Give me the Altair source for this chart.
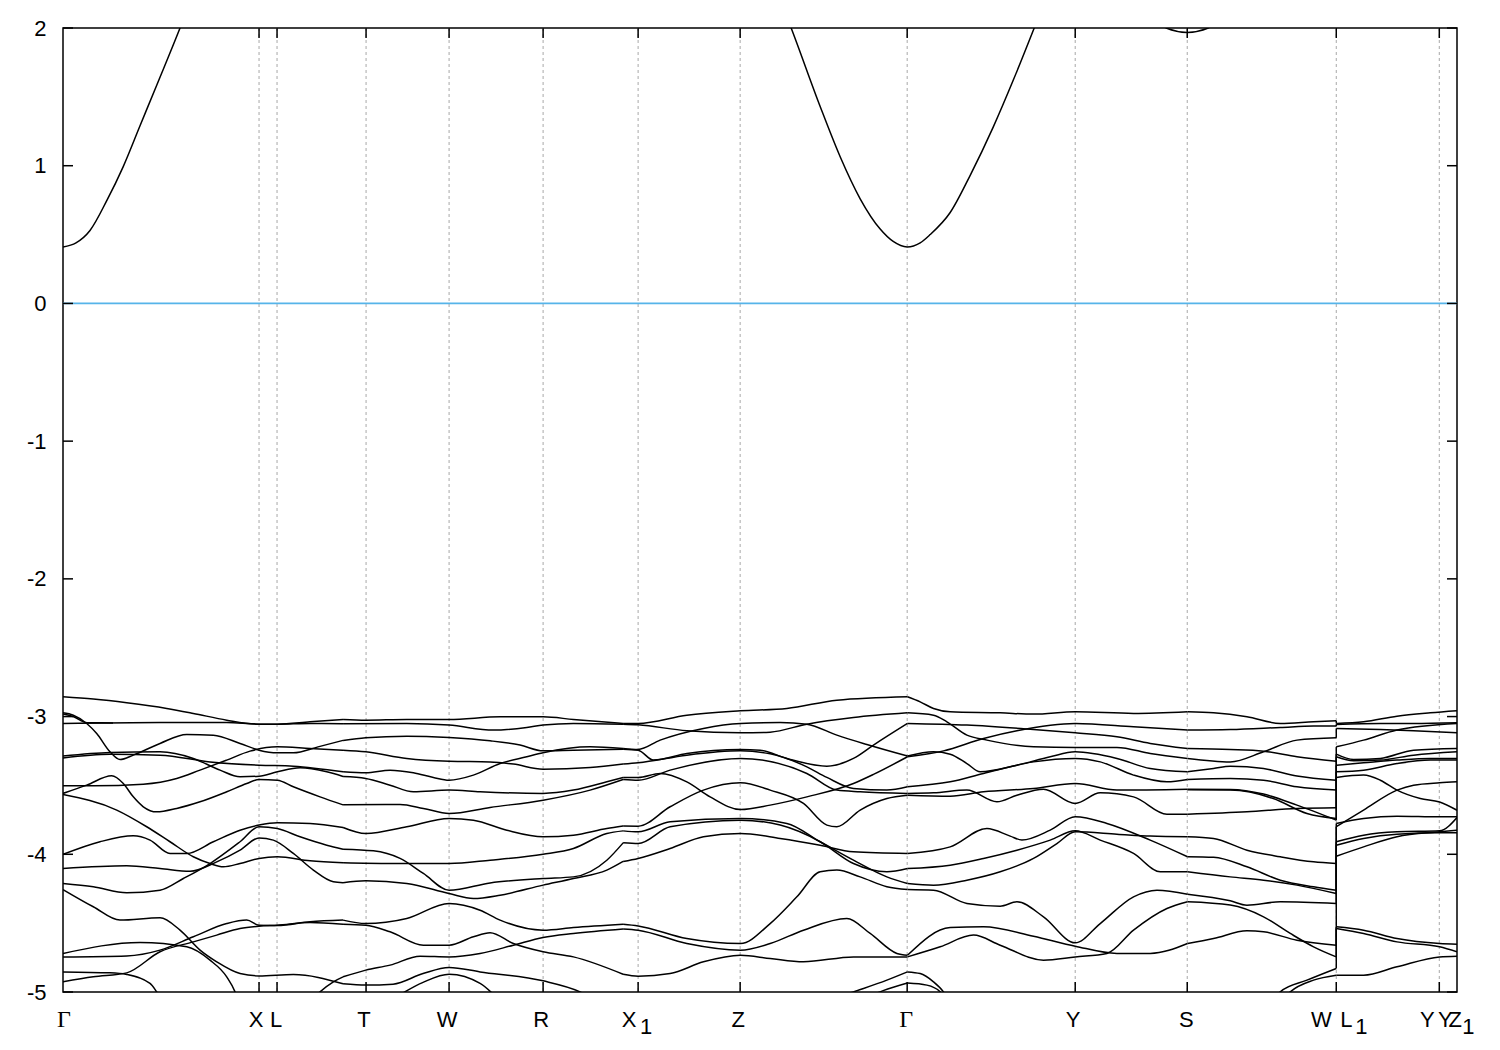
import altair as alt
import pandas as pd

# ---------------- k-path (arbitrary path units) ----------------
K_END = 13.937
HS_TICKS = [1.96, 2.14, 3.03, 3.86, 4.80, 5.75, 6.77, 8.44, 10.12, 11.24, 12.73, 13.76]
Y_TICKS = [-5, -4, -3, -2, -1, 0, 1, 2]

# tick labels: (k position, text)
LABELS_SANS = [(1.93, "X"), (2.13, "L"), (3.01, "T"), (3.84, "W"), (4.78, "R"),
               (5.66, "X"), (6.75, "Z"), (10.10, "Y"), (11.23, "S"), (12.58, "W"),
               (12.83, "L"), (13.64, "Y"), (13.82, "Y"), (13.92, "Z")]
LABELS_SERIF = [(0.01, "Γ"), (8.43, "Γ")]
LABELS_SUB = [(5.83, "1"), (12.98, "1"), (14.05, "1")]

# ---------------- conduction band (k, E) ----------------
CB_GAMMA1 = [(0.0, 0.41), (0.13, 0.44), (0.27, 0.53), (0.44, 0.75), (0.60, 0.99),
             (0.77, 1.29), (0.94, 1.59), (1.17, 2.0), (1.25, 2.15)]
CB_GAMMA2 = [(7.20, 2.15), (7.28, 2.0), (7.57, 1.43), (7.77, 1.065), (7.97, 0.76),
             (8.17, 0.54), (8.30, 0.45), (8.44, 0.41), (8.57, 0.44), (8.67, 0.50),
             (8.87, 0.66), (9.07, 0.93), (9.30, 1.28), (9.50, 1.62), (9.71, 2.0), (9.78, 2.13)]
CB_S = [(10.95, 2.03), (11.03, 2.0), (11.24, 1.968), (11.45, 2.0), (11.53, 2.03)]

# ---------------- valence bands, Gamma -> (between L and T) ----------------
VB_R1 = [
    [(0, -2.856), (0.303, -2.873), (0.637, -2.9), (1.037, -2.941), (1.303, -2.977), (1.637, -3.026), (1.96, -3.055), (2.143, -3.055), (2.47, -3.038), (2.80, -3.021)],
    [(0, -3.05), (0.97, -3.043), (1.637, -3.043), (1.96, -3.055), (2.143, -3.055), (2.47, -3.05), (2.80, -3.052)],
    [(0, -2.982), (0.10, -3.0), (0.24, -3.045), (0.50, -3.046)],
    [(0, -2.973), (0.103, -2.99), (0.237, -3.05), (0.337, -3.123), (0.47, -3.256), (0.57, -3.312), (0.703, -3.28), (0.97, -3.195), (1.237, -3.13), (1.503, -3.135), (1.77, -3.195), (1.96, -3.244), (2.143, -3.263), (2.303, -3.263), (2.55, -3.22), (2.80, -3.173)],
    [(0, -3.503), (0.303, -3.503), (0.803, -3.491), (1.137, -3.45), (1.37, -3.389), (1.637, -3.316), (1.87, -3.251), (2.143, -3.22), (2.47, -3.232), (2.80, -3.244)],
    [(0, -3.30), (0.47, -3.273), (0.97, -3.28), (1.47, -3.329), (1.96, -3.353), (2.303, -3.36), (2.80, -3.401)],
    [(0, -3.287), (0.47, -3.261), (0.97, -3.256), (1.303, -3.304), (1.57, -3.389), (1.77, -3.437), (1.96, -3.433), (2.143, -3.401), (2.37, -3.372), (2.637, -3.401), (2.80, -3.435)],
    [(0, -3.558), (0.237, -3.498), (0.487, -3.43), (0.603, -3.486), (0.703, -3.583), (0.803, -3.655), (0.937, -3.692), (1.137, -3.667), (1.37, -3.619), (1.637, -3.546), (1.837, -3.486), (1.96, -3.457), (2.143, -3.462), (2.303, -3.51), (2.57, -3.583), (2.80, -3.641)],
    [(0, -3.566), (0.537, -3.679), (0.837, -3.80), (1.07, -3.909), (1.303, -4.018), (1.47, -4.067), (1.603, -4.091), (1.77, -4.067), (1.96, -4.03), (2.143, -4.018), (2.47, -4.047), (2.80, -4.062)],
    [(0, -4.001), (0.37, -3.909), (0.703, -3.866), (0.87, -3.897), (1.07, -3.994), (1.237, -3.994), (1.503, -3.909), (1.77, -3.825), (1.96, -3.788), (2.143, -3.771), (2.47, -3.776), (2.80, -3.805)],
    [(0, -4.212), (0.303, -4.236), (0.637, -4.28), (0.97, -4.261), (1.203, -4.176), (1.47, -4.067), (1.77, -3.909), (1.96, -3.80), (2.143, -3.813), (2.37, -3.873), (2.637, -3.934), (2.80, -3.963)],
    [(0, -4.103), (0.637, -4.084), (0.97, -4.103), (1.27, -4.123), (1.537, -4.055), (1.77, -3.97), (1.96, -3.881), (2.103, -3.897), (2.303, -3.994), (2.503, -4.115), (2.703, -4.20), (2.80, -4.207)],
    [(0, -4.256), (0.303, -4.381), (0.57, -4.478), (0.97, -4.461), (1.17, -4.551), (1.37, -4.696), (1.537, -4.781), (1.77, -4.866), (1.96, -4.883), (2.303, -4.873), (2.80, -4.94)],
    [(0, -4.72), (0.77, -4.64), (1.237, -4.672), (1.47, -4.769), (1.637, -4.89), (1.72, -4.999), (1.75, -5.06)],
    [(0, -4.745), (0.637, -4.738), (0.97, -4.696), (1.303, -4.599), (1.637, -4.503), (1.837, -4.478), (1.96, -4.515), (2.143, -4.517), (2.47, -4.49), (2.80, -4.478)],
    [(0, -4.926), (0.303, -4.89), (0.637, -4.861), (0.97, -4.708), (1.303, -4.636), (1.537, -4.587), (1.77, -4.539), (1.96, -4.522), (2.143, -4.515), (2.47, -4.495), (2.80, -4.508)],
    [(0, -4.854), (0.47, -4.861), (0.637, -4.873), (0.87, -4.938), (0.937, -4.999), (0.97, -5.035)],
    [(2.50, -5.05), (2.57, -4.999), (2.703, -4.926), (2.80, -4.89)],
]

# ---------------- (between L and T) -> (between R and X1) ----------------
VB_R2 = [
    [(2.80, -3.021), (3.027, -3.026), (3.437, -3.021), (3.86, -3.021), (4.37, -3.002), (4.80, -3.002), (5.103, -3.021), (5.60, -3.05)],
    [(2.80, -3.052), (3.437, -3.05), (3.86, -3.062), (4.303, -3.098), (4.637, -3.079), (4.80, -3.062), (5.103, -3.05), (5.60, -3.055)],
    [(2.80, -3.173), (3.027, -3.154), (3.437, -3.142), (3.86, -3.152), (4.27, -3.176), (4.57, -3.207), (4.80, -3.249), (5.103, -3.244), (5.60, -3.237)],
    [(2.80, -3.244), (3.027, -3.256), (3.437, -3.304), (3.86, -3.324), (4.27, -3.329), (4.503, -3.345), (4.80, -3.382), (5.27, -3.37), (5.60, -3.345)],
    [(2.80, -3.401), (3.027, -3.408), (3.27, -3.389), (3.503, -3.408), (3.703, -3.442), (3.86, -3.462), (4.103, -3.425), (4.37, -3.341), (4.637, -3.292), (4.80, -3.263), (5.27, -3.22), (5.60, -3.232)],
    [(2.80, -3.435), (3.027, -3.449), (3.27, -3.498), (3.503, -3.546), (3.86, -3.534), (4.17, -3.546), (4.80, -3.558), (5.103, -3.534), (5.437, -3.474), (5.60, -3.442)],
    [(2.80, -3.641), (3.37, -3.638), (3.603, -3.667), (3.86, -3.704), (4.27, -3.66), (4.80, -3.607), (5.27, -3.534), (5.60, -3.457)],
    [(2.80, -3.805), (3.027, -3.849), (3.437, -3.80), (3.86, -3.74), (4.103, -3.752), (4.437, -3.825), (4.80, -3.873), (5.103, -3.861), (5.437, -3.813), (5.60, -3.795)],
    [(2.80, -3.963), (3.103, -3.975), (3.37, -4.03), (3.603, -4.139), (3.86, -4.261), (4.27, -4.208), (4.80, -4.176), (5.103, -4.164), (5.437, -4.043), (5.60, -3.917)],
    [(2.80, -4.062), (3.27, -4.067), (3.86, -4.067), (4.27, -4.043), (4.80, -4.0), (5.103, -3.958), (5.437, -3.849), (5.60, -3.83)],
    [(2.80, -4.207), (3.027, -4.193), (3.437, -4.212), (3.86, -4.285), (4.103, -4.321), (4.37, -4.297), (4.80, -4.224), (5.103, -4.176), (5.437, -4.115), (5.60, -4.052)],
    [(2.80, -4.478), (3.027, -4.503), (3.437, -4.466), (3.86, -4.357), (4.17, -4.406), (4.37, -4.478), (4.80, -4.551), (5.103, -4.532), (5.60, -4.508)],
    [(2.80, -4.508), (3.027, -4.515), (3.27, -4.563), (3.603, -4.66), (3.86, -4.66), (4.103, -4.599), (4.27, -4.57), (4.503, -4.648), (4.80, -4.708), (5.103, -4.745), (5.60, -4.871)],
    [(2.80, -4.89), (3.027, -4.841), (3.27, -4.805), (3.57, -4.74), (3.86, -4.745), (4.17, -4.72), (4.503, -4.66), (4.80, -4.604), (5.103, -4.575), (5.60, -4.542)],
    [(2.80, -4.94), (3.027, -4.95), (3.30, -4.943), (3.60, -4.866), (3.86, -4.822), (4.17, -4.854), (4.80, -4.919), (5.17, -4.999), (5.30, -5.048)],
    [(3.30, -5.05), (3.60, -4.93), (3.86, -4.871), (4.17, -4.938), (4.35, -5.05)],
]

# ---------------- (between R and X1) -> Gamma ----------------
VB_R3 = [
    [(5.60, -3.05), (5.75, -3.05), (6.237, -2.99), (6.773, -2.958), (7.237, -2.941), (7.737, -2.881), (8.443, -2.856)],
    [(5.60, -3.055), (5.75, -3.06), (6.237, -3.103), (6.773, -3.118), (7.07, -3.113), (7.437, -3.055), (7.903, -3.007), (8.443, -2.973)],
    [(5.60, -3.232), (5.75, -3.239), (5.97, -3.171), (6.403, -3.086), (6.773, -3.05), (7.17, -3.043), (7.437, -3.055), (7.737, -3.135), (8.037, -3.203), (8.443, -3.287)],
    [(5.60, -3.237), (5.75, -3.244), (5.903, -3.316), (6.237, -3.268), (6.773, -3.239), (6.97, -3.244), (7.237, -3.304), (7.637, -3.36), (7.903, -3.304), (8.103, -3.207), (8.443, -3.05)],
    [(5.60, -3.345), (5.75, -3.336), (6.237, -3.28), (6.773, -3.249), (7.07, -3.27), (7.437, -3.365), (7.637, -3.442), (7.903, -3.522), (8.237, -3.534), (8.443, -3.51)],
    [(5.60, -3.442), (5.75, -3.442), (5.97, -3.413), (6.237, -3.474), (6.47, -3.583), (6.773, -3.675), (7.07, -3.643), (7.437, -3.583), (7.903, -3.486), (8.103, -3.42), (8.443, -3.292)],
    [(5.60, -3.457), (5.75, -3.462), (6.07, -3.389), (6.773, -3.304), (7.437, -3.413), (7.737, -3.534), (7.97, -3.546), (8.443, -3.558)],
    [(5.60, -3.795), (5.75, -3.796), (6.07, -3.655), (6.403, -3.534), (6.773, -3.481), (7.07, -3.534), (7.403, -3.631), (7.637, -3.788), (7.737, -3.80), (7.97, -3.679), (8.237, -3.595), (8.443, -3.571)],
    [(5.60, -3.83), (5.75, -3.837), (6.07, -3.764), (6.773, -3.74), (7.237, -3.776), (7.57, -3.909), (7.903, -4.043), (8.237, -4.164), (8.443, -4.212)],
    [(5.60, -3.917), (5.75, -3.922), (6.07, -3.80), (6.773, -3.752), (7.17, -3.788), (7.57, -3.909), (7.903, -4.067), (8.237, -4.127), (8.443, -4.103)],
    [(5.60, -4.052), (5.75, -4.03), (6.07, -3.958), (6.403, -3.873), (6.773, -3.849), (7.17, -3.885), (7.57, -3.934), (7.903, -3.982), (8.443, -3.994)],
    [(5.60, -4.508), (5.75, -4.52), (6.237, -4.612), (6.773, -4.648), (7.07, -4.503), (7.337, -4.309), (7.57, -4.127), (7.737, -4.115), (7.97, -4.164), (8.237, -4.236), (8.443, -4.256)],
    [(5.60, -4.542), (5.75, -4.551), (6.237, -4.648), (6.773, -4.696), (7.07, -4.648), (7.403, -4.551), (7.837, -4.466), (8.07, -4.575), (8.337, -4.72), (8.443, -4.733)],
    [(5.60, -4.871), (5.75, -4.885), (6.07, -4.866), (6.403, -4.781), (6.773, -4.733), (7.07, -4.757), (7.403, -4.781), (7.903, -4.745), (8.443, -4.745)],
    [(7.70, -5.05), (7.903, -4.999), (8.237, -4.914), (8.443, -4.854)],
    [(8.00, -5.05), (8.20, -4.99), (8.443, -4.935)],
]

# ---------------- Gamma -> S ----------------
VB_R4 = [
    [(8.443, -2.856), (8.57, -2.893), (8.703, -2.941), (8.87, -2.965), (9.37, -2.973), (9.703, -2.982), (10.12, -2.965), (10.703, -2.977), (11.243, -2.965)],
    [(8.443, -2.973), (8.703, -2.99), (8.837, -3.038), (9.037, -3.135), (9.237, -3.171), (9.703, -3.22), (10.12, -3.224), (10.537, -3.224), (10.87, -3.268), (11.243, -3.304)],
    [(8.443, -3.05), (9.037, -3.062), (9.703, -3.094), (10.12, -3.118), (10.537, -3.147), (10.87, -3.195), (11.243, -3.232)],
    [(8.443, -3.287), (8.703, -3.256), (8.87, -3.273), (9.037, -3.341), (9.17, -3.401), (9.537, -3.353), (9.87, -3.292), (10.12, -3.256), (10.537, -3.304), (10.87, -3.377), (11.243, -3.401)],
    [(8.443, -3.292), (8.803, -3.249), (9.203, -3.159), (9.537, -3.103), (10.12, -3.05), (10.703, -3.074), (11.243, -3.098)],
    [(8.443, -3.51), (8.87, -3.474), (9.203, -3.413), (9.703, -3.329), (10.12, -3.304), (10.37, -3.329), (10.703, -3.425), (11.037, -3.474), (11.243, -3.457)],
    [(8.443, -3.558), (8.703, -3.554), (9.037, -3.534), (9.337, -3.619), (9.537, -3.571), (9.803, -3.527), (10.12, -3.631), (10.37, -3.554), (10.703, -3.583), (11.037, -3.709), (11.243, -3.709)],
    [(8.443, -3.571), (8.87, -3.578), (9.203, -3.546), (9.703, -3.522), (10.12, -3.486), (10.537, -3.534), (11.243, -3.527)],
    [(8.443, -3.994), (8.87, -3.946), (9.237, -3.813), (9.47, -3.868), (9.587, -3.897), (9.87, -3.825), (10.12, -3.728), (10.437, -3.776), (10.87, -3.897), (11.243, -4.018)],
    [(8.443, -4.103), (8.87, -4.079), (9.203, -4.03), (9.537, -3.97), (9.87, -3.897), (10.12, -3.83), (10.37, -3.897), (10.703, -3.994), (10.97, -4.127), (11.243, -4.127)],
    [(8.443, -4.212), (8.703, -4.224), (9.037, -4.188), (9.37, -4.127), (9.703, -4.03), (9.937, -3.922), (10.12, -3.837), (10.537, -3.854), (10.87, -3.868), (11.243, -3.873)],
    [(8.443, -4.256), (8.703, -4.261), (9.037, -4.357), (9.37, -4.377), (9.537, -4.345), (9.803, -4.454), (10.12, -4.643), (10.37, -4.503), (10.703, -4.309), (10.937, -4.261), (11.243, -4.29)],
    [(8.443, -4.733), (8.87, -4.532), (9.203, -4.527), (9.703, -4.595), (10.12, -4.667), (10.537, -4.72), (10.87, -4.72), (11.243, -4.648)],
    [(8.443, -4.745), (8.77, -4.672), (9.103, -4.587), (9.37, -4.66), (9.803, -4.769), (10.12, -4.745), (10.437, -4.72), (10.703, -4.551), (11.037, -4.394), (11.243, -4.345)],
    [(8.443, -4.854), (8.57, -4.866), (8.703, -4.926), (8.803, -4.999), (8.85, -5.05)],
    [(8.443, -4.935), (8.637, -4.95), (8.77, -4.999), (8.82, -5.05)],
]

# ---------------- S -> W ----------------
VB_R5 = [
    [(11.243, -2.965), (11.503, -2.973), (11.837, -3.002), (12.17, -3.05), (12.503, -3.038), (12.73, -3.031)],
    [(11.243, -3.098), (11.67, -3.094), (12.17, -3.079), (12.503, -3.069), (12.73, -3.069)],
    [(11.243, -3.232), (11.67, -3.239), (12.003, -3.251), (12.337, -3.292), (12.73, -3.324)],
    [(11.243, -3.304), (11.67, -3.329), (12.003, -3.256), (12.337, -3.171), (12.73, -3.154)],
    [(11.243, -3.401), (11.503, -3.377), (11.67, -3.36), (12.003, -3.377), (12.337, -3.432), (12.73, -3.462)],
    [(11.243, -3.457), (11.67, -3.449), (12.003, -3.462), (12.337, -3.51), (12.73, -3.534)],
    [(11.243, -3.527), (11.67, -3.529), (12.003, -3.563), (12.337, -3.643), (12.73, -3.752)],
    [(11.243, -3.532), (11.67, -3.534), (12.10, -3.595), (12.437, -3.704), (12.73, -3.74)],
    [(11.243, -3.709), (11.837, -3.692), (12.337, -3.667), (12.73, -3.662)],
    [(11.243, -3.873), (11.503, -3.885), (11.837, -3.97), (12.17, -4.018), (12.503, -4.055), (12.73, -4.067)],
    [(11.243, -4.018), (11.503, -4.022), (11.837, -4.091), (12.17, -4.188), (12.503, -4.236), (12.73, -4.261)],
    [(11.243, -4.127), (11.67, -4.164), (12.003, -4.188), (12.337, -4.224), (12.73, -4.285)],
    [(11.243, -4.29), (11.67, -4.338), (11.837, -4.37), (12.17, -4.345), (12.73, -4.357)],
    [(11.243, -4.345), (11.67, -4.369), (12.003, -4.454), (12.27, -4.575), (12.503, -4.672), (12.73, -4.745)],
    [(11.243, -4.648), (11.503, -4.612), (11.837, -4.556), (12.003, -4.563), (12.337, -4.624), (12.73, -4.66)],
    [(12.10, -5.05), (12.17, -4.999), (12.437, -4.914), (12.73, -4.829)],
    [(12.20, -5.05), (12.27, -4.999), (12.503, -4.914), (12.73, -4.878)],
]

# ---------------- L1 -> Y -> Z1 ----------------
VB_R6 = [
    [(12.73, -3.05), (13.003, -3.038), (13.337, -2.997), (13.67, -2.973), (13.937, -2.958)],
    [(12.73, -3.057), (13.17, -3.05), (13.503, -3.05), (13.937, -3.045)],
    [(12.73, -3.086), (13.17, -3.094), (13.503, -3.103), (13.937, -3.118)],
    [(12.73, -3.22), (13.003, -3.171), (13.337, -3.098), (13.937, -3.05)],
    [(12.73, -3.273), (12.903, -3.312), (13.17, -3.304), (13.503, -3.244), (13.937, -3.232)],
    [(12.73, -3.292), (12.903, -3.321), (13.17, -3.316), (13.503, -3.28), (13.937, -3.256)],
    [(12.73, -3.353), (13.003, -3.336), (13.337, -3.316), (13.67, -3.304), (13.937, -3.304)],
    [(12.73, -3.401), (13.003, -3.389), (13.337, -3.341), (13.67, -3.316), (13.937, -3.316)],
    [(12.73, -3.442), (13.003, -3.425), (13.17, -3.462), (13.337, -3.534), (13.57, -3.595), (13.763, -3.62), (13.937, -3.68)],
    [(12.73, -3.80), (13.003, -3.679), (13.337, -3.534), (13.503, -3.498), (13.763, -3.481), (13.937, -3.474)],
    [(12.73, -3.776), (13.003, -3.74), (13.337, -3.723), (13.763, -3.728), (13.937, -3.728)],
    [(12.73, -3.909), (13.003, -3.861), (13.337, -3.837), (13.763, -3.83), (13.937, -3.733)],
    [(12.73, -3.934), (13.003, -3.885), (13.337, -3.854), (13.763, -3.844), (13.937, -3.844)],
    [(12.73, -4.014), (13.003, -3.946), (13.337, -3.873), (13.763, -3.837), (13.937, -3.825)],
    [(12.73, -4.527), (13.003, -4.551), (13.337, -4.612), (13.763, -4.648), (13.937, -4.653)],
    [(12.73, -4.539), (13.003, -4.575), (13.337, -4.636), (13.763, -4.672), (13.937, -4.708)],
    [(12.73, -4.878), (13.003, -4.878), (13.337, -4.817), (13.763, -4.745), (13.937, -4.74)],
]

# ---------------- build tables ----------------
rows = []
pieces = [("cb", [CB_GAMMA1, CB_GAMMA2, CB_S]), ("r1", VB_R1), ("r2", VB_R2),
          ("r3", VB_R3), ("r4", VB_R4), ("r5", VB_R5), ("r6", VB_R6)]
for name, group in pieces:
    for i, piece in enumerate(group):
        for j, (k, e) in enumerate(piece):
            rows.append({"piece": f"{name}_{i}", "k": k, "E": e, "o": j})
bands = pd.DataFrame(rows)

# band jumps at the W | L1 discontinuity
w_end = sorted(p[-1][1] for p in VB_R5)
l1_start = sorted(p[0][1] for p in VB_R6)
jumps = pd.DataFrame({"k": [12.73] * len(w_end), "E": w_end, "E2": l1_start})

grid_df = pd.DataFrame({"k": HS_TICKS})
ytick_df = pd.DataFrame({"E": Y_TICKS})
sans_df = pd.DataFrame(LABELS_SANS, columns=["k", "t"])
serif_df = pd.DataFrame(LABELS_SERIF, columns=["k", "t"])
sub_df = pd.DataFrame(LABELS_SUB, columns=["k", "t"])

X_SCALE = alt.Scale(domain=[0, K_END], nice=False, zero=False)
Y_SCALE = alt.Scale(domain=[-5, 2], nice=False, zero=False)
Y_AXIS = alt.Axis(values=Y_TICKS, ticks=False, domain=False, grid=False,
                  labelFontSize=22, labelFont="Liberation Sans", labelColor="black",
                  labelPadding=17, title=None, labelExpr="datum.value + ''")

xk = alt.X("k:Q", scale=X_SCALE, axis=None)
yE = alt.Y("E:Q", scale=Y_SCALE, axis=Y_AXIS)

grid = alt.Chart(grid_df).mark_rule(color="#a8a8a8", strokeWidth=1, strokeDash=[3, 3]).encode(x=xk)
fermi = alt.Chart(pd.DataFrame({"E": [0]})).mark_rule(color="#56b4e9", strokeWidth=1.8).encode(y=yE)
lines = alt.Chart(bands).mark_line(color="black", strokeWidth=1.5, interpolate="monotone",
                                   clip=True).encode(x=xk, y=yE, detail="piece:N", order="o:Q")
jump = alt.Chart(jumps).mark_rule(color="black", strokeWidth=1.5).encode(x=xk, y=yE, y2="E2:Q")

tick_b = alt.Chart(grid_df).mark_rule(color="black", strokeWidth=1.5).encode(
    x=xk, y=alt.value(964), y2=alt.value(954))
tick_t = alt.Chart(grid_df).mark_rule(color="black", strokeWidth=1.5).encode(
    x=xk, y=alt.value(0), y2=alt.value(10))
tick_l = alt.Chart(ytick_df).mark_rule(color="black", strokeWidth=1.5).encode(
    y=yE, x=alt.value(0), x2=alt.value(10))
tick_r = alt.Chart(ytick_df).mark_rule(color="black", strokeWidth=1.5).encode(
    y=yE, x=alt.value(1394), x2=alt.value(1384))

lab_sans = alt.Chart(sans_df).mark_text(font="Liberation Sans", fontSize=22, color="black",
                                        baseline="alphabetic", align="center", dy=35).encode(
    x=xk, y=alt.value(964), text="t:N")
lab_serif = alt.Chart(serif_df).mark_text(font="Liberation Serif", fontSize=24, color="black",
                                          baseline="alphabetic", align="center", dy=35).encode(
    x=xk, y=alt.value(964), text="t:N")
lab_sub = alt.Chart(sub_df).mark_text(font="Liberation Sans", fontSize=22, color="black",
                                      baseline="alphabetic", align="center", dy=42).encode(
    x=xk, y=alt.value(964), text="t:N")

chart = alt.layer(grid, fermi, lines, jump, tick_b, tick_t, tick_l, tick_r,
                  lab_sans, lab_serif, lab_sub).properties(
    width=1394, height=964,
    padding={"left": 55, "top": 20, "right": 30, "bottom": 50},
    autosize=alt.AutoSizeParams(type="none"),
    background="white",
).configure_view(stroke="black", strokeWidth=1.5)

chart.save("out.html", embed_options={"renderer": "svg", "actions": False})
